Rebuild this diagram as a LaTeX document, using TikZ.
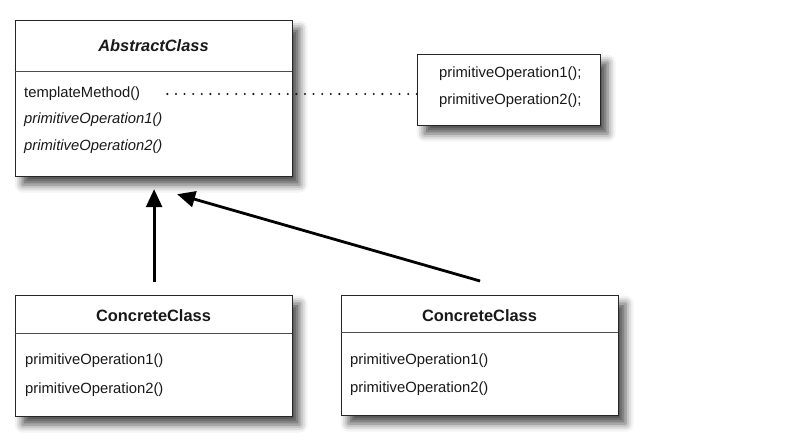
\documentclass[tikz,border=0pt]{standalone}
\usepackage{fontspec}
\setmainfont{Liberation Sans}
\usetikzlibrary{positioning,calc,arrows.meta,shadows.blur}

\tikzset{
  classbox/.style={draw=black!85,line width=1.2pt,fill=white,anchor=north west,inner sep=0pt,
    blur shadow={shadow xshift=7pt,shadow yshift=-8pt,shadow blur radius=8pt,shadow opacity=70}},
  classname/.style={inner sep=0pt,text=black!90,font=\fontsize{16.4}{19}\selectfont\bfseries},
  method/.style={anchor=west,inner sep=0pt,text=black!90,font=\fontsize{14.8}{18}\selectfont},
  divider/.style={draw=black!70,line width=1pt},
  inherit/.style={-{Triangle[length=18pt,width=16pt]},line width=2.8pt},
  notelink/.style={line width=2.3pt,line cap=round,dash pattern=on 0pt off 8.6pt,black!90}
}

\begin{document}
\begin{tikzpicture}[x=1pt,y=-1pt]
\useasboundingbox (0,0) rectangle (799,445);

% abstract class
\node[classbox,minimum width=277pt,minimum height=156pt] (abstract) at (15,20) {};
\node[classname] (abstracttitle) at (153.5,45.5) {\itshape AbstractClass};
\draw[divider] (15,71) -- (292,71);
\node[method] (templatemethod) at (24,94) {templateMethod()};
\node[method] (primop1) at (24,120) {\itshape primitiveOperation1()};
\node[method] (primop2) at (24,147) {\itshape primitiveOperation2()};

% note
\node[classbox,minimum width=183pt,minimum height=71pt] (note) at (417,54) {};
\node[method] (noteop1) at (439,74) {primitiveOperation1();};
\node[method] (noteop2) at (439,101) {primitiveOperation2();};
\draw[notelink] (templatemethod.east) ++(27,0) -- (note.west |- templatemethod.east);

% concrete classes
\node[classbox,minimum width=277pt,minimum height=121pt] (concrete1) at (15,295) {};
\node[classname] (concrete1title) at (153.5,316) {ConcreteClass};
\draw[divider] (15,333) -- (292,333);
\node[method] (concrete1op1) at (25,361) {primitiveOperation1()};
\node[method] (concrete1op2) at (25,390) {primitiveOperation2()};

\node[classbox,minimum width=277pt,minimum height=120pt] (concrete2) at (341,295) {};
\node[classname] (concrete2title) at (479.5,316) {ConcreteClass};
\draw[divider] (341,332) -- (618,332);
\node[method] (concrete2op1) at (350,361) {primitiveOperation1()};
\node[method] (concrete2op2) at (350,389) {primitiveOperation2()};

% inheritance
\coordinate (abstracthook) at ($(abstract.south)+(23,17)$);
\draw[inherit,shorten <=13pt,shorten >=12pt] (concrete1.north) -- (abstract.south);
\draw[inherit] ($(concrete2.north)+(0,-14)$) -- (abstracthook);
\end{tikzpicture}
\end{document}
